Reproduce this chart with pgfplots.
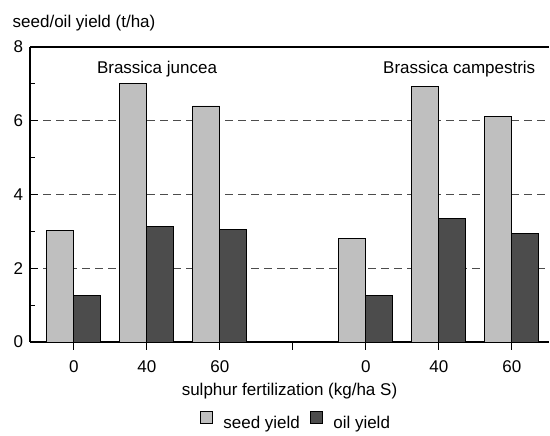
\documentclass[border=0pt]{standalone}
\usepackage{pgfplots}
\pgfplotsset{compat=1.18}
\usepackage{fontspec}
\setmainfont{Liberation Sans}
\newcommand{\ff}{\fontsize{17bp}{20bp}\selectfont}
\begin{document}
\ff
\begin{tikzpicture}
\begin{axis}[
  name=ax,
  scale only axis,
  width=519bp, height=295bp,
  xmin=-0.6, xmax=6.51,
  ymin=0, ymax=8,
  axis x line=box, axis y line=left,
  axis line style={line width=1.3bp, -},
  ybar=0pt, bar width=27bp,
  xtick={0,1,2,3,4,5,6},
  xticklabels={0,40,60,,0,40,60},
  xtick pos=lower,
  x tick style={black, line width=0.8bp},
  xtick align=outside,
  ytick={0,2,4,6,8},
  minor ytick={1,3,5,7},
  y tick style={black, line width=0.8bp},
  ytick align=inside,
  major tick length=8bp, minor tick length=5bp,
  ytick pos=left,
  ymajorgrids=true,
  grid style={dash pattern=on 8bp off 5bp, line width=0.8bp, black!70},
  /pgf/number format/assume math mode=true,
  ticklabel style={font=\ff},
  xticklabel style={yshift=-5bp},
  yticklabel style={xshift=-1bp},
  xlabel={sulphur fertilization (kg/ha S)},
  xlabel style={font=\ff, yshift=1bp},
  legend columns=2,
  legend style={draw=none, at={(0.5125,-0.271)}, anchor=center,
    font=\ff,
    /tikz/every odd column/.append style={column sep=8bp},
    /tikz/every even column/.append style={column sep=8bp}},
  legend image code/.code={\draw[#1, draw=black] (0bp,0bp) rectangle (12.5bp,12.5bp);},
  clip=false,
]
\addplot[fill=black!25, draw=black, line width=0.9bp] coordinates {
  (0,3.03) (1,7.00) (2,6.40) (4,2.80) (5,6.94) (6,6.12)};
\addplot[fill=black!70, draw=black, line width=0.9bp] coordinates {
  (0,1.25) (1,3.13) (2,3.04) (4,1.27) (5,3.35) (6,2.95)};
\legend{seed yield, oil yield}
\node[font=\ff] at (axis cs:1.14,7.4) {Brassica juncea};
\node[font=\ff] at (axis cs:5.28,7.4) {Brassica campestris};
\end{axis}
\node[anchor=base west, font=\ff, inner sep=0pt] at ([xshift=-17.5bp,yshift=19bp]ax.north west) {seed/oil yield (t/ha)};
\path[use as bounding box] ([xshift=-30bp,yshift=-87bp]ax.south west) rectangle ++(550bp,429bp);
\end{tikzpicture}
\end{document}
